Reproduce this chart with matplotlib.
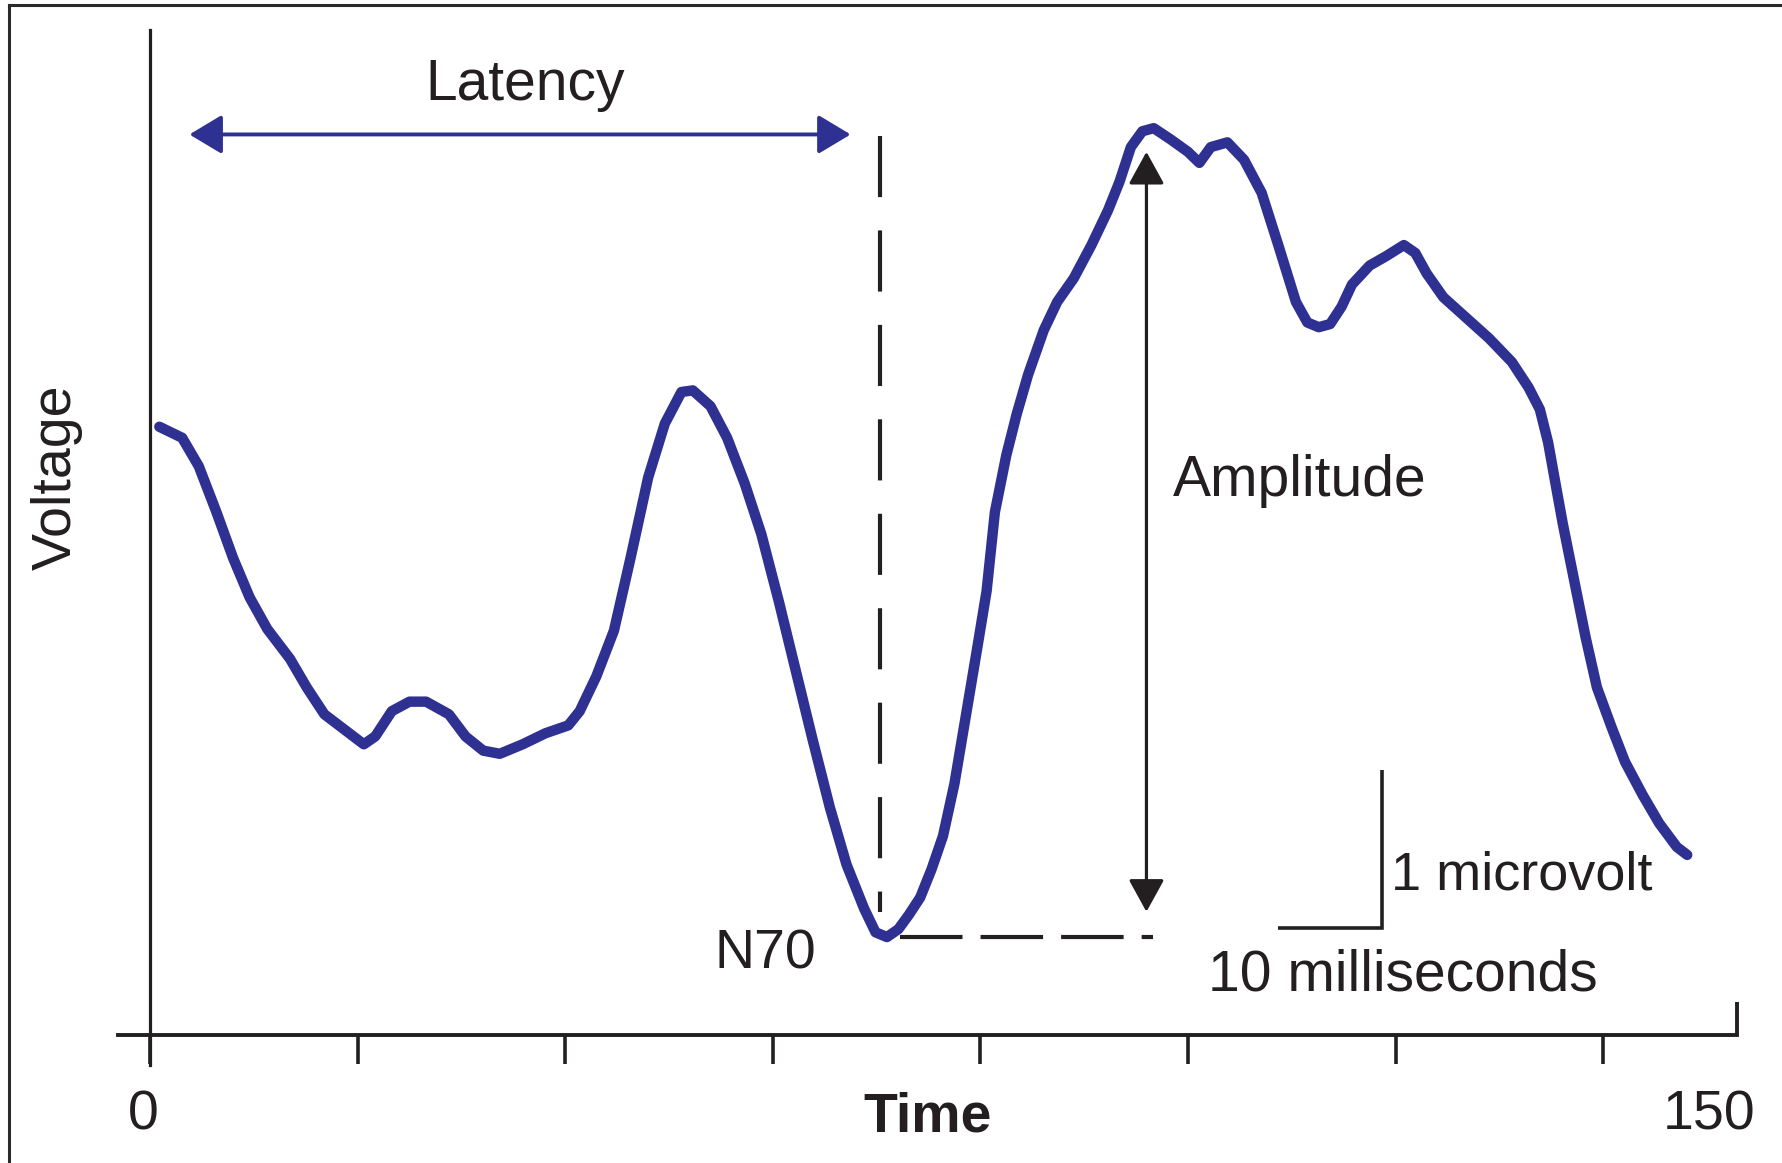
import numpy as np
import matplotlib
matplotlib.use("Agg")
import matplotlib.pyplot as plt
from matplotlib.patches import FancyArrowPatch, ArrowStyle
from matplotlib.lines import Line2D

plt.rcParams['font.family'] = ['Liberation Sans', 'DejaVu Sans']
plt.rcParams['lines.scale_dashes'] = False

BLUE = '#2E3192'
INK = '#231F20'

# --- data: evoked potential trace (time in ms, voltage in microvolts) ------
t_ms = [0.9, 3.1, 4.7, 6.4, 8.0, 9.6, 11.3, 13.5, 15.1, 16.8, 18.4, 20.6,
        21.7, 23.3, 25.0, 26.6, 28.8, 30.4, 32.1, 33.7, 35.9, 38.1, 40.3,
        41.4, 43.0, 44.7, 46.3, 48.0, 49.6, 51.2, 52.3, 54.0, 55.6, 57.3,
        58.9, 60.6, 62.2, 63.8, 65.5, 67.1, 68.8, 69.9, 71.0, 72.1, 73.1,
        74.2, 75.3, 76.4, 77.5, 78.6, 79.7, 80.6, 81.4, 82.5, 83.5, 84.6,
        86.1, 87.4, 89.0, 90.7, 92.3, 93.4, 94.5, 95.6, 96.7, 98.3, 100.0,
        101.1, 102.2, 103.8, 105.4, 107.1, 108.7, 110.4, 111.5, 112.6,
        113.7, 114.8, 115.8, 117.5, 119.1, 120.8, 121.9, 123.0, 124.6,
        126.8, 129.0, 131.2, 132.8, 133.9, 134.7, 135.3, 136.1, 137.2,
        138.3, 139.4, 140.8, 142.1, 143.8, 145.4, 147.1, 148.1]
v_uv = [3.85, 3.78, 3.60, 3.31, 3.02, 2.77, 2.57, 2.38, 2.20, 2.03, 1.95,
        1.84, 1.89, 2.05, 2.11, 2.11, 2.03, 1.89, 1.80, 1.78, 1.84, 1.91,
        1.96, 2.05, 2.27, 2.56, 3.02, 3.53, 3.87, 4.07, 4.08, 3.98, 3.78,
        3.49, 3.17, 2.74, 2.31, 1.88, 1.44, 1.08, 0.80, 0.65, 0.62, 0.67,
        0.76, 0.87, 1.05, 1.26, 1.59, 2.02, 2.45, 2.81, 3.31, 3.67, 3.93,
        4.18, 4.46, 4.64, 4.79, 5.00, 5.22, 5.40, 5.62, 5.72, 5.74, 5.67,
        5.59, 5.52, 5.62, 5.65, 5.54, 5.33, 5.00, 4.64, 4.51, 4.48, 4.50,
        4.61, 4.75, 4.87, 4.93, 5.00, 4.95, 4.82, 4.67, 4.54, 4.41, 4.26,
        4.10, 3.96, 3.75, 3.53, 3.24, 2.88, 2.52, 2.20, 1.95, 1.73, 1.52,
        1.34, 1.19, 1.14]

x_ticks = [0, 20, 40, 60, 80, 100, 120, 140]
x_end_labels = ["0", "150"]
n70_ms, n70_uv = 70.3, 0.62
peak_uv = 5.59
latency_span = (3.8, 67.5)
latency_y = 5.70
scale_t0, scale_ms, scale_uv = 108.7, 10, 1

fig = plt.figure(figsize=(17.82, 11.63), dpi=100)
ax = fig.add_axes([0, 0, 1, 1])
ax.set_xlim(-14.45, 157.23)
ax.set_ylim(-0.81, 6.551)
ax.set_facecolor('none')

# axes
for s in ['top', 'right']:
    ax.spines[s].set_visible(False)
ax.spines['left'].set_position(('data', 0))
ax.spines['bottom'].set_position(('data', 0))
ax.spines['left'].set_bounds(-0.19, 6.36)
ax.spines['bottom'].set_bounds(-3.1, 152.9)
ax.spines['left'].set_linewidth(2.3)
ax.spines['bottom'].set_linewidth(2.8)
ax.spines['left'].set_color(INK)
ax.spines['bottom'].set_color(INK)
ax.set_xticks(x_ticks)
ax.set_xticklabels([])
ax.set_yticks([])
ax.tick_params(axis='x', direction='out', length=21, width=2.6, color=INK)
ax.plot([152.9, 152.9], [0, 0.21], color=INK, lw=2.8, solid_capstyle='butt')

# trace
ax.plot(t_ms, v_uv, color=BLUE, lw=7.5, solid_joinstyle='round',
        solid_capstyle='round', zorder=5)

# dashed guides
ax.plot([n70_ms, n70_ms], [latency_y - 0.01, 0.78], color=INK, lw=3.0,
        linestyle=(0, (44, 24)))
ax.plot([72.3, 96.6], [n70_uv, n70_uv], color=INK, lw=3.0,
        linestyle=(0, (45, 13)))

# latency arrow
ax.add_patch(FancyArrowPatch((latency_span[0], latency_y), (latency_span[1], latency_y),
                             arrowstyle=ArrowStyle('<|-|>', head_length=20, head_width=12),
                             mutation_scale=1, color=BLUE, lw=2.8,
                             shrinkA=0, shrinkB=0))
# amplitude arrow
ax.add_patch(FancyArrowPatch((96.0, 0.78), (96.0, peak_uv),
                             arrowstyle=ArrowStyle('<|-|>', head_length=20, head_width=11),
                             mutation_scale=1, color=INK, lw=2.3,
                             shrinkA=0, shrinkB=0))

# scale bar
ax.plot([scale_t0, scale_t0 + scale_ms, scale_t0 + scale_ms],
        [0.68, 0.68, 0.68 + scale_uv], color=INK, lw=2.6,
        solid_joinstyle='miter', solid_capstyle='butt')

fs = 40
ax.text(36.1, 5.92, "Latency", fontsize=fs + 1, color=INK, ha='center', va='baseline')
ax.text(-8.96, 3.53, "Voltage", fontsize=fs, color=INK, ha='center', va='center',
        rotation=90)
ax.text(98.5, 3.41, "Amplitude", fontsize=fs + 1, color=INK, ha='left', va='baseline')
ax.text(54.4, 0.42, "N70", fontsize=fs, color=INK, ha='left', va='baseline')
ax.text(119.6, 0.92, "1 microvolt", fontsize=fs - 1, color=INK, ha='left', va='baseline')
ax.text(101.9, 0.28, "10 milliseconds", fontsize=fs + 1, color=INK, ha='left', va='baseline')
ax.text(-0.67, -0.60, x_end_labels[0], fontsize=fs, color=INK, ha='center', va='baseline')
ax.text(150.2, -0.60, x_end_labels[1], fontsize=fs, color=INK, ha='center', va='baseline')
ax.text(74.9, -0.61, "Time", fontsize=fs, fontweight='bold', color=INK,
        ha='center', va='baseline')

# outer frame (top and left edges only)
fig.add_artist(Line2D([9 / 1782, 1], [1 - 5 / 1163, 1 - 5 / 1163],
                      transform=fig.transFigure, color='#2a2a2a', lw=2.2))
fig.add_artist(Line2D([9 / 1782, 9 / 1782], [0, 1 - 5 / 1163],
                      transform=fig.transFigure, color='#2a2a2a', lw=2.2))

fig.savefig("out.png", dpi=100)
